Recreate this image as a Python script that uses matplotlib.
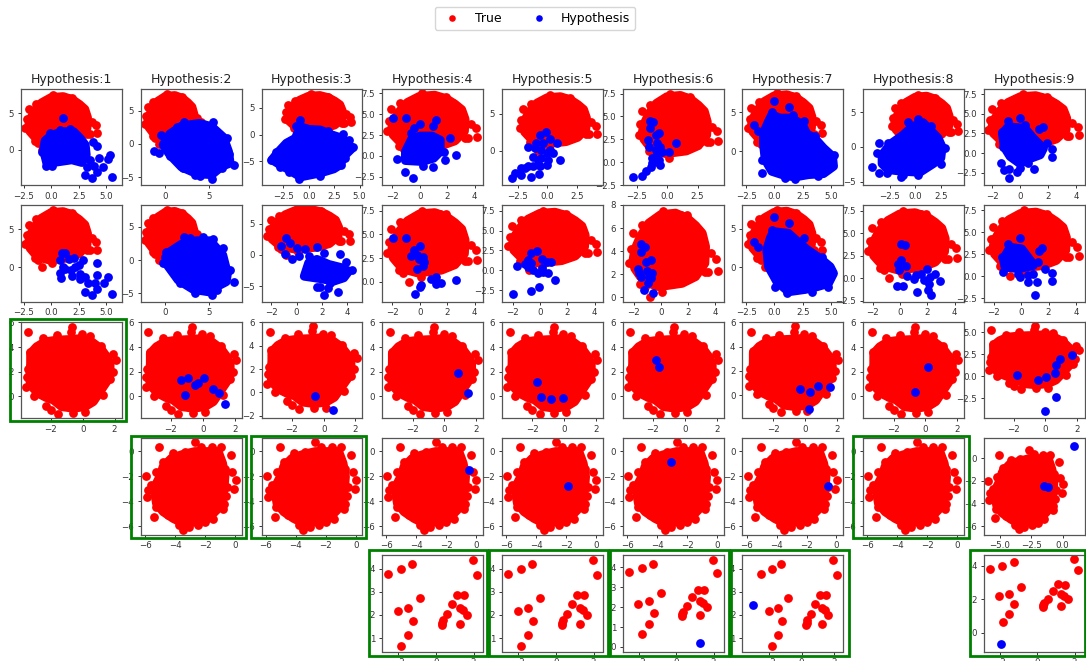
#!/usr/bin/env python3
# -*- coding: utf-8 -*-

import matplotlib
matplotlib.use("Agg")
import matplotlib.pyplot as pyplot
from matplotlib.patches import Rectangle

# true samples: outline of the dense cloud + stragglers
true_top_hull = [(-2.05, 3.25), (-1.93, 4.12), (-1.51, 5.28), (-0.89, 6.43), (-0.02, 7.16), (1.09, 7.3), (1.95, 6.87),
	(2.57, 6.23), (3.06, 5.57), (3.31, 4.41), (3.26, 2.96), (2.57, 1.8), (1.58, 1.22), (0.72, 1.07), (-0.15, 0.93),
	(-0.89, 1.22), (-1.51, 1.8), (-1.93, 2.52)]
true_top_extra = [(-2.35, 3.0), (-2.2, 4.2), (-2.05, 5.6), (-1.4, 6.3), (0.2, 7.5), (0.6, 7.2), (1.5, 7.1), (1.9, 7.1),
	(2.4, 6.3), (2.9, 5.6), (-0.8, 0.0), (3.7, 3.85), (4.1, 3.35), (4.2, 2.3), (3.5, 2.2), (3.3, 2.2), (0.12, 0.5),
	(-1.5, 1.2), (-1.2, 0.9)]

true_mid_hull = [(-3.27, 3.49), (-3.27, 2.68), (-3.31, 1.86), (-3.31, 1.19), (-3.1, 0.65), (-2.79, 0.24), (-2.32, -0.08),
	(-1.84, -0.3), (-1.32, -0.84), (-0.59, -0.97), (0.15, -0.84), (0.67, -0.43), (1.09, 0.38), (1.51, 1.19), (1.72, 1.86),
	(1.72, 2.68), (1.51, 3.22), (1.13, 3.89), (0.57, 4.43), (-0.06, 4.7), (-0.8, 4.62), (-1.63, 4.57), (-2.37, 4.43),
	(-2.89, 4.03)]
true_mid_extra = [(-3.41, 5.2), (-0.65, 5.67), (-0.71, 5.24), (-0.04, 5.03), (0.46, 4.9), (1.13, 4.08), (1.93, 3.4),
	(2.1, 2.92), (1.9, 2.0), (1.72, 1.4), (1.3, 0.1), (0.15, -1.3), (-0.6, -1.33), (-1.53, -1.43), (-2.0, -1.1),
	(-2.3, -0.76), (-3.06, 0.05), (-3.56, 0.76), (-3.52, 1.6), (-3.45, 2.19), (-3.31, 3.62), (-2.47, 4.7), (-1.63, 4.97)]

true_low_hull = [(-5.04, -2.04), (-4.82, -1.23), (-4.26, -0.56), (-3.59, -0.29), (-2.7, -0.03), (-1.81, -0.03),
	(-1.14, -0.03), (-0.85, -0.97), (-0.69, -2.04), (-0.76, -3.11), (-0.92, -4.05), (-1.25, -4.72), (-1.81, -5.39),
	(-2.59, -5.66), (-3.48, -5.79), (-4.15, -5.39), (-4.82, -4.85), (-5.27, -4.18), (-5.38, -3.38), (-5.27, -2.57)]
true_low_extra = [(-5.08, 0.3), (-2.7, 0.7), (-2.3, 0.37), (-1.58, 0.3), (-0.98, 0.3), (-0.3, -0.3), (-0.2, -1.7),
	(0.04, -2.3), (-0.07, -3.05), (-0.54, -2.85), (-0.8, -4.6), (-1.47, -5.4), (-2.47, -5.9), (-3.07, -6.05),
	(-3.5, -6.27), (-3.77, -5.9), (-5.3, -4.45), (-5.43, -5.3), (-5.88, -3.7), (-5.8, -3.1), (-5.6, -2.7),
	(-5.95, -2.0), (-5.27, -1.63), (-4.8, -0.83), (-4.14, -0.15), (-3.37, -0.03), (-4.5, -5.1), (-2.0, -5.7),
	(-0.75, -4.2), (-0.6, -3.6), (-0.7, -1.4)]

true_few = [(-2.54, 3.77), (-1.86, 3.97), (-1.25, 4.19), (1.98, 4.37), (2.2, 3.71), (-0.84, 2.72), (1.14, 2.88),
	(1.5, 2.85), (0.86, 2.49), (1.29, 2.3), (1.46, 2.2), (1.63, 2.01), (0.59, 2.04), (0.36, 1.76), (0.32, 1.67),
	(0.30, 1.57), (1.29, 1.6), (-1.48, 2.3), (-2.04, 2.17), (-1.21, 1.73), (-1.48, 1.15), (-1.84, 0.67)]

# hypothesis samples, dense clouds as outline + stragglers
hull_1_1 = [(-0.7, 0), (-0.55, 1.27), (0.06, 2.05), (1.12, 2.5), (2.04, 2.5), (2.64, 1.59), (3.1, 0.68), (3.19, -0.68),
	(2.8, -1.73), (1.88, -1.36), (0.21, -1.73), (-0.4, -1.82), (-0.55, -0.91)]
hyp_1_1 = [(1.1, 4.4), (3.04, -3.45), (3.68, -3.86), (5.56, -3.73), (4.16, -3.09), (4.71, -2.27), (5.17, -1.27),
	(5.38, -0.68), (3.8, 1.14), (4.16, 0.55), (4.32, -1.14), (3.86, -2.18), (3.5, -1.36), (3.25, -2.27), (-0.15, 2.3),
	(0.82, 2.73), (1.73, 2.8), (-0.46, -2.18), (0.06, -2.18), (-0.85, -0.3)]
hyp_2_1 = [(0.97, 1.8), (1.28, 1.89), (0.82, 0.92), (1.12, 0.04), (0.76, -0.7), (0.91, -1.36), (1.58, 1.05),
	(2.1, 1.27), (2.89, 0.92), (1.79, -0.39), (1.88, -1.18), (2.49, 0.26), (4.16, 0.61), (2.64, -1.49), (3.1, -1.27),
	(3.31, -2.06), (4.16, -1.05), (4.77, -2.06), (5.14, -1.27), (3.95, -2.06), (3.04, -3.25), (3.68, -3.6),
	(5.56, -3.5), (4.16, -2.8), (2.19, 0.04), (1.28, -0.18), (2.58, -0.83)]

hull_1_2 = [(-0.27, -0.15), (0.5, 1.5), (1.86, 2.7), (3.91, 3.1), (5.35, 2.6), (6.7, 1), (7.29, -1.15), (7.48, -2.9),
	(6.51, -3.4), (5.35, -4.65), (3.6, -4.5), (1.86, -3.5), (0.5, -1.65)]
hyp_1_2 = [(-1.36, -1), (-0.54, 1.4), (-0.74, -1.4), (7.87, -3.15), (5.35, -5.3), (3.41, -4.75), (3.99, -4.9),
	(5.47, 3.25), (2.17, 3.35), (1.28, 2.5), (7.09, 0.85), (7.3, -1.6), (6.5, -3.65), (2.06, -3.7), (0.5, -1.9)]
hull_2_2 = [(0.12, -0.6), (0.5, 1.25), (1.86, 2.4), (3.6, 2.9), (5.16, 2.9), (6.63, 0.75), (7.17, -2), (7.02, -3.25),
	(5.54, -4.25), (4.96, -4.75), (3.22, -4.4), (1.47, -3)]
hyp_2_2 = [(2.17, 3.5), (2.83, 3.25), (5.47, 3.15), (7.87, -3.25), (5.35, -5.3), (3.41, -5), (0.04, 1.25),
	(-0.08, 0.5), (6.7, 1.75), (7.5, -1.5), (5.93, -4.5), (1.66, -3.5), (-0.27, -0.5), (4.3, 3.4)]

hull_1_3 = [(-3.62, -4.69), (-2.96, -3.15), (-2.2, -1.6), (-1.32, -0.68), (-0.82, 1.48), (0, 0.99), (1.15, 0.86),
	(2.3, -0.06), (3.29, -0.68), (3.95, -1.91), (4.28, -2.53), (3.45, -4.07), (3.13, -5.6), (2.47, -6.4), (1.15, -7.16),
	(-0.82, -7.9), (-1.97, -6.54), (-2.86, -5.6)]
hyp_1_3 = [(-0.82, 2.7), (-1.3, 1.6), (3.39, 0.12), (4.37, -2.4), (-3.68, -4.8), (-2.86, -6.1), (-0.92, -8.27),
	(3.13, -5.6), (3.95, -1), (1.15, -7.8), (-1.9, -7.0), (-3.2, -3.2), (2.8, -0.4), (3.6, -4.4), (1.9, 0.6)]
hull_2_3 = [(0.6, -3.42), (0.95, -1.25), (1.6, -0.71), (2.53, -1.52), (3.58, -2.06), (4.1, -2.6), (3.71, -3.67),
	(2.92, -4.2), (1.87, -3.8)]
hyp_2_3 = [(-0.82, 2.66), (-1.21, 1.47), (-0.5, 1.85), (0.03, 1.09), (-0.95, 0.11), (-0.37, -0.7), (0.16, -0.16),
	(0.68, 0.92), (1.6, 1.2), (0.95, -0.16), (2.13, 0.38), (3.39, 0.11), (3.89, -1.09), (4.37, -2.34), (1.6, -5.2),
	(1.87, -5.2), (2.66, -4.5), (3.26, -5.87), (2.13, -6.4), (2.5, -5.3)]

hull_1_4 = [(-1.04, 0.52), (-0.56, 2.11), (0.05, 2.39), (0.9, 2.39), (1.5, 1.91), (1.5, 0.52), (1.02, -0.28),
	(0.17, -0.68), (-1.04, -0.56)]
hyp_1_4 = [(-1.91, 4.5), (-0.97, 4.5), (0, 3.82), (0.97, 3.63), (1.19, 4.3), (-0.44, 3.3), (-1.65, -0.32),
	(-1.09, -1.95), (-0.48, -2.63), (0.97, -1.31), (2.64, 0.16), (2.23, 2.19), (1.79, 0.52), (1.86, -0.48),
	(0.22, -1.27), (-0.63, 2.79)]
hyp_2_4 = [(-1.91, 4.61), (-0.97, 4.61), (0, 3.8), (-0.39, 3.35), (-0.63, 2.75), (-0.19, 2.82), (0.22, 2.64),
	(-0.07, 2.39), (0.29, 2.11), (0.22, 1.69), (-0.19, 1.3), (0.82, 0.28), (1.19, 0.46), (1.19, -0.28), (1.57, -0.11),
	(2.64, 0.14), (0.12, -0.35), (0, -0.6), (-0.31, -1.27)]

hyp_1_5 = [(-2.97, -3.7), (-2.72, -3.04), (-2.21, -3.35), (-1.36, -3.57), (-1.93, -2.37), (-1.22, -0.8), (-1.64, 0.45),
	(-1.08, 0.31), (-0.65, 2.1), (-0.14, 2.46), (0.2, 1.52), (0.82, 0.98), (0.48, -0.27), (1.1, -1.3), (-0.08, -1.92),
	(-0.74, -3.12), (-1.64, -2.14), (-0.79, -1.25), (-0.51, 0.09), (-0.08, -0.36), (0.06, -1.25), (-0.93, 0.98),
	(-1.22, -2.14), (-2.21, -2.37), (-0.37, 0.98), (-0.65, -2.14), (0.2, 0.09), (-0.51, -1.03)]
hyp_2_5 = [(-1.99, -3.01), (-0.64, -2.59), (-0.12, -2.05), (1.08, -1.26), (-1.67, 0.5), (-1.13, 0.79), (-0.88, 1.3),
	(-0.69, 2.13), (-0.2, 2.47), (0.1, 1.42), (0.47, 1.09), (0.76, 1), (-0.88, 0.46), (-0.51, 0.04), (-0.15, -0.38),
	(0.22, -0.17), (0.54, -0.38), (-0.64, 0.88), (0.1, 0.25)]

hyp_1_6 = [(-2.84, -1.63), (-2.09, -1.56), (-1.71, -1.01), (-1.32, -0.54), (-0.55, -0.36), (-1.38, 4.49), (-1.18, 4.35),
	(-1.38, 3.77), (-0.96, 2.97), (-0.69, 3.22), (-1.57, 2.43), (-1.52, 1.7), (-0.83, 2.07), (-0.55, 1.63), (-0.41, 1.09),
	(0.69, 2.14), (0.14, 1.16), (-1.24, 0.43), (-0.83, 0.98), (-1.24, -0.11), (-0.69, 0.25), (-0.96, 1.34)]
hyp_2_6 = [(-1.46, 4.64), (-1.19, 4.35), (-1.46, 3.97), (-1.06, 3.04), (-0.69, 3.25), (-1.68, 2.43), (-1.63, 2.09),
	(-1.43, 1.8), (-1.01, 2.32), (-0.64, 2.09), (-0.89, 1.8), (-0.94, 1.28), (-1.26, 0.64), (-0.59, 0.41), (-0.69, 1.65)]

hull_1_7 = [(-0.97, 2.33), (-0.53, 3.84), (-0.24, 4.7), (0.5, 4.27), (1.53, 4.27), (2.47, 3.4), (2.85, 2.24), (3.53, 1.68),
	(4.32, 0.39), (5.12, -0.69), (5.21, -1.98), (4.32, -2.93), (3, -3.06), (1.82, -3.36), (0.94, -3.19), (-0.24, -2.63),
	(-0.82, -1.12), (-0.97, 0.82)]
hyp_1_7 = [(-0.03, 6.47), (1.32, 5.69), (-1.79, 3.32), (-1.12, -2.89), (-1.41, 2.54), (-0.24, 5), (1.62, 4.7),
	(2.56, 3.84), (3.53, 1.98), (5.21, -0.47), (3.88, -3.28), (1.82, -3.62), (0.94, -3.5), (-1.1, -1.1)]
hull_2_7 = [(-0.68, 2.26), (-0.38, 3.78), (-0.09, 4.65), (1.24, 4.43), (1.88, 3.57), (2.85, 2.35), (4.03, 1.17),
	(4.91, 0.09), (5.21, -0.78), (4.76, -2.09), (3.74, -2.52), (2.71, -2.87), (1.24, -3.17), (0.21, -1.87), (-0.53, 0.09)]
hyp_2_7 = [(-0.03, 6.48), (1.32, 5.74), (-1.79, 3.3), (-1.41, 2.7), (0.06, -2.52), (1.09, -3.39), (2.56, 3.78),
	(-0.24, 4.87), (4.18, 1.39), (4.76, -2.52), (3.29, -3.17)]

hull_1_8 = [(-3.28, -1.14), (-2.43, 0.43), (-1.21, 1.71), (-0.33, 2.9), (0.75, 3.48), (1.51, 2.33), (2.23, 1.24),
	(2.62, -0.05), (2.49, -1.62), (1.74, -2.43), (0.43, -3.67), (-1.38, -3.52), (-2.69, -3.29), (-3.28, -2.43)]
hyp_1_8 = [(-3.57, 0.62), (-4.23, -2.95), (-3.57, -3.71), (-2.79, -3.71), (-1.38, -4.33), (-0.72, 3.52), (1.51, 3.05),
	(2.49, -2.43), (-3.74, -0.9), (0.26, 3.95), (-1.21, -4), (2.89, -0.19), (0.26, -4), (-2.69, 0.52)]
hyp_2_8 = [(0.1, 3.85), (0.39, 3.67), (0.1, 2), (-0.15, 1.63), (0.42, 1.37), (-0.07, 0.96), (0.54, 0.22), (1, -0.04),
	(1.56, 0.52), (1.98, 1), (2.54, 0.52), (2.91, -0.33), (1.74, -0.22), (2.13, -0.59), (-0.24, -0.85), (0.2, -0.85),
	(1.22, -1.48), (2.05, -1.33), (2.25, -1.85), (1.2, 0.33), (2.18, 0.15)]

hull_1_9 = [(-1.29, 2.52), (-0.86, 3.36), (0.33, 3.15), (0.93, 1.89), (1.65, 0.63), (1.41, -0.21), (0.45, -0.84),
	(-0.02, -1.34), (-0.74, -0.42), (-1.15, 0.76)]
hyp_1_9 = [(0, 4.41), (1.34, 3.03), (1.58, 3.32), (2.24, 0.55), (2.24, -0.42), (-1.41, -1.18), (-1.17, -2.18),
	(-0.81, -2.02), (-0.81, -3.11), (-0.21, -2.44), (0.98, -1.97), (-0.91, 4.12), (1.93, 1.34), (0.33, 3.57),
	(-1.34, 2.73), (-1.22, 0.84), (0.57, -1.26), (-0.02, -1.89)]
hull_2_9 = [(-1.29, 1.99), (-0.8, 3.31), (0.05, 3.12), (0.78, 1.62), (0.9, 1.24), (-0.2, 0.86), (-1.17, 1.05)]
hyp_2_9 = [(-0.07, 4.36), (1.32, 2.93), (1.56, 3.23), (2.24, 0.41), (2.24, -0.49), (0.98, -2.07), (-1.29, 0.49),
	(-0.07, -0.08), (0.54, -0.64), (1.15, -0.64), (0.54, 0.11), (1.76, 0.86), (1.27, 1.62), (0.9, 0.3), (-0.2, 0.3),
	(-0.93, 3.68), (-1.41, 2.18)]

hyp_3_2 = [(-1.38, 1.35), (-0.92, 1.46), (-0.5, 0.95), (-0.31, 1.05), (0.06, 1.49), (0.67, 0.62), (1.03, 0.24),
	(1.4, -0.62), (-1.11, 0.11)]
hyp_3_3 = [(-0.57, -0.29), (0.59, -1.49)]
hyp_3_4 = [(0.84, 1.89), (1.49, 0.3)]
hyp_3_5 = [(-1.7, 1.19), (-1.45, -0.08), (-0.8, -0.19), (-0.06, -0.14)]
hyp_3_6 = [(-1.82, 2.97), (-1.59, 2.38)]
hyp_3_7 = [(-0.34, 0.52), (0.29, 0.28), (0.8, 0.77), (1.6, 0.66), (0.25, -1.16)]
hyp_3_8 = [(0.15, 2.38), (-0.65, 0.38)]
hyp_3_9 = [(-1.77, 0.19), (-0.48, -0.41), (0.04, -0.04), (0.63, 0.37), (0.65, 1.27), (0.95, 1.99), (1.71, 2.4),
	(0.65, -2.4), (-0.02, -3.9)]

hyp_4_4 = [(-0.45, -1.5)]
hyp_4_5 = [(-1.88, -2.79)]
hyp_4_6 = [(-3.06, -0.88)]
hyp_4_7 = [(-0.54, -2.8)]
hyp_4_9 = [(0.94, 1.13), (-1.47, -2.43), (-1.2, -2.52)]

hyp_5_6 = [(1.27, 0.22)]
hyp_5_7 = [(-3.01, 2.44)]
hyp_5_9 = [(-1.91, -0.63)]

# axis limits per panel, column number -> limits
xlim_1 = {1: (-2.74, 6.4), 2: (-2.83, 8.8), 3: (-4.65, 5.25), 4: (-2.74, 4.58), 5: (-3.85, 4.67),
	6: (-3.64, 4.65), 7: (-2.82, 6.05), 8: (-5.15, 4.72), 9: (-2.6, 4.58)}
ylim_1 = {1: (-4.8, 8.4), 2: (-6.2, 8.35), 3: (-9.4, 8.6), 4: (-3.5, 8.1), 5: (-4.64, 8.4),
	6: (-2.5, 8.05), 7: (-4.4, 8.1), 8: (-5.5, 8.4), 9: (-4.03, 8.2)}
xlim_2 = {1: (-2.74, 6.4), 2: (-2.83, 8.8), 3: (-2.76, 5.15), 4: (-2.74, 4.58), 5: (-2.8, 4.58),
	6: (-2.79, 4.64), 7: (-2.82, 6.05), 8: (-2.71, 4.65), 9: (-2.7, 4.63)}
ylim_2 = {1: (-4.5, 8.16), 2: (-6.2, 8.25), 3: (-7.45, 7.98), 4: (-2.08, 8.1), 5: (-3.9, 8.2),
	6: (-0.35, 8.0), 7: (-4.43, 8.1), 8: (-2.57, 8.15), 9: (-2.85, 8.1)}
xlim_3 = {1: (-3.87, 2.44), 2: (-3.85, 2.43), 3: (-3.92, 2.42), 4: (-3.92, 2.41), 5: (-3.9, 2.43),
	6: (-3.87, 2.43), 7: (-3.95, 2.4), 8: (-3.95, 2.43), 9: (-3.87, 2.48)}
ylim_3 = {1: (-1.76, 6.08), 2: (-1.76, 6.08), 3: (-2.2, 6.08), 4: (-1.76, 6.08), 5: (-1.76, 6.08),
	6: (-1.76, 6.08), 7: (-1.9, 6.08), 8: (-1.76, 6.08), 9: (-4.72, 6.2)}
xlim_4 = {2: (-6.3, 0.42), 3: (-6.3, 0.42), 4: (-6.3, 0.45), 5: (-6.3, 0.45), 6: (-6.3, 0.45),
	7: (-6.3, 0.45), 8: (-6.3, 0.45), 9: (-6.28, 1.76)}
ylim_4 = {2: (-6.67, 1.05), 3: (-6.67, 1.05), 4: (-6.67, 1.05), 5: (-6.67, 1.05), 6: (-6.67, 1.05),
	7: (-6.67, 1.05), 8: (-6.67, 1.05), 9: (-6.75, 1.8)}
xlim_5 = {4: (-2.87, 2.48), 5: (-2.87, 2.48), 6: (-2.86, 2.54), 7: (-3.67, 2.58), 9: (-2.84, 2.54)}
ylim_5 = {4: (0.42, 4.59), 5: (0.42, 4.59), 6: (-0.23, 4.62), 7: (0.42, 4.59), 9: (-1.1, 4.63)}

# tick values as printed on each panel
ticks_a = [-2.5, 0, 2.5, 5]
ticks_b = [-2, 0, 2, 4]
ticks_c = [-2.5, 0, 2.5]
ticks_d = [-2.5, 0, 2.5, 5, 7.5]
ticks_e = [-5, 0, 5]
xticks_1 = {1: ticks_a, 2: [0, 5], 3: ticks_a, 4: ticks_b, 5: ticks_c, 6: ticks_c, 7: ticks_a, 8: ticks_c, 9: ticks_b}
yticks_1 = {1: [0, 5], 2: ticks_e, 3: ticks_e, 4: ticks_d, 5: [0, 5], 6: ticks_d, 7: [0, 5], 8: ticks_e, 9: ticks_d}
xticks_2 = {1: ticks_a, 2: [0, 5], 3: ticks_b, 4: ticks_b, 5: ticks_b, 6: ticks_b, 7: ticks_a, 8: ticks_b, 9: ticks_b}
yticks_2 = {1: [0, 5], 2: ticks_e, 3: ticks_e, 4: [0, 2.5, 5, 7.5], 5: ticks_d, 6: [0, 2, 4, 6, 8], 7: [0, 5],
	8: ticks_d, 9: ticks_d}
xticks_3 = {col: [-2, 0, 2] for col in range(1, 10)}
yticks_3 = {1: [0, 2, 4, 6], 2: [0, 2, 4, 6], 3: [-2, 0, 2, 4, 6], 4: [0, 2, 4, 6], 5: [0, 2, 4, 6],
	6: [0, 2, 4, 6], 7: [0, 2, 4, 6], 8: [0, 2, 4, 6], 9: ticks_a}
xticks_4 = {2: [-6, -4, -2, 0], 3: [-6, -4, -2, 0], 4: [-6, -4, -2, 0], 5: [-6, -4, -2, 0], 6: [-6, -4, -2, 0],
	7: [-6, -4, -2, 0], 8: [-6, -4, -2, 0], 9: [-5, -2.5, 0]}
yticks_4 = {col: [-6, -4, -2, 0] for col in range(2, 10)}
xticks_5 = {4: [-2, 0, 2], 5: [-2, 0, 2], 6: [-2, 0, 2], 7: [-2, 0, 2], 9: [-2, 0, 2]}
yticks_5 = {4: [1, 2, 3, 4], 5: [1, 2, 3, 4], 6: [0, 1, 2, 3, 4], 7: [1, 2, 3, 4], 9: [0, 2, 4]}

titles = ["Hypothesis:%d" % i for i in range(1, 10)]
legend_labels = ["True", "Hypothesis"]

FIG_W, FIG_H = 1086, 661
AX_W, AX_H = 100.6, 96.5
COL_LEFT = [21, 141, 261.5, 382, 502, 623, 742.5, 863, 984]
ROW_TOP = [88.5, 205, 321.5, 438, 555]
MARKER = 40

# row, col: dense hypothesis outline, hypothesis points
hypotheses = {
	(1, 1): (hull_1_1, hyp_1_1), (1, 2): (hull_1_2, hyp_1_2), (1, 3): (hull_1_3, hyp_1_3),
	(1, 4): (hull_1_4, hyp_1_4), (1, 5): (None, hyp_1_5), (1, 6): (None, hyp_1_6),
	(1, 7): (hull_1_7, hyp_1_7), (1, 8): (hull_1_8, hyp_1_8), (1, 9): (hull_1_9, hyp_1_9),
	(2, 1): (None, hyp_2_1), (2, 2): (hull_2_2, hyp_2_2), (2, 3): (hull_2_3, hyp_2_3),
	(2, 4): (None, hyp_2_4), (2, 5): (None, hyp_2_5), (2, 6): (None, hyp_2_6),
	(2, 7): (hull_2_7, hyp_2_7), (2, 8): (None, hyp_2_8), (2, 9): (hull_2_9, hyp_2_9),
	(3, 2): (None, hyp_3_2), (3, 3): (None, hyp_3_3), (3, 4): (None, hyp_3_4), (3, 5): (None, hyp_3_5),
	(3, 6): (None, hyp_3_6), (3, 7): (None, hyp_3_7), (3, 8): (None, hyp_3_8), (3, 9): (None, hyp_3_9),
	(4, 4): (None, hyp_4_4), (4, 5): (None, hyp_4_5), (4, 6): (None, hyp_4_6), (4, 7): (None, hyp_4_7),
	(4, 9): (None, hyp_4_9),
	(5, 6): (None, hyp_5_6), (5, 7): (None, hyp_5_7), (5, 9): (None, hyp_5_9),
}
true_sets = {
	1: (true_top_hull, true_top_extra), 2: (true_top_hull, true_top_extra),
	3: (true_mid_hull, true_mid_extra), 4: (true_low_hull, true_low_extra), 5: (None, true_few),
}
limits = {1: (xlim_1, ylim_1), 2: (xlim_2, ylim_2), 3: (xlim_3, ylim_3), 4: (xlim_4, ylim_4), 5: (xlim_5, ylim_5)}
ticks = {1: (xticks_1, yticks_1), 2: (xticks_2, yticks_2), 3: (xticks_3, yticks_3), 4: (xticks_4, yticks_4),
	5: (xticks_5, yticks_5)}

# accepted hypotheses: box edges in pixels
green_boxes = [
	(9.5, 319, 126, 421), (131, 435.5, 246, 538), (251, 435.5, 366, 538), (853, 435.5, 969, 538),
	(368.5, 549.5, 487, 656), (489, 549.5, 608, 656), (610, 549.5, 729, 656), (731, 549.5, 849, 656),
	(970, 550, 1085, 656),
]


def draw_cloud(ax, hull, points, color, zorder):
	if hull is not None:
		# round stroke as wide as a marker, so the outline reads as packed dots
		ax.fill([p[0] for p in hull], [p[1] for p in hull], facecolor=color, edgecolor=color,
			lw=MARKER ** 0.5, joinstyle="round", zorder=zorder)
	return ax.scatter([p[0] for p in points], [p[1] for p in points], s=MARKER, c=color, lw=0, zorder=zorder)


fig = pyplot.figure(figsize=(FIG_W / 100, FIG_H / 100), dpi=100)

for row in limits:
	xlims, ylims = limits[row]
	xticks, yticks = ticks[row]
	for col in xlims:
		left = COL_LEFT[col - 1]
		top = ROW_TOP[row - 1]
		ax = fig.add_axes([left / FIG_W, 1 - (top + AX_H) / FIG_H, AX_W / FIG_W, AX_H / FIG_H])
		hull, extra = true_sets[row]
		h_true = draw_cloud(ax, hull, extra, "red", 2)
		if (row, col) in hypotheses:
			hull, points = hypotheses[(row, col)]
			h_hyp = draw_cloud(ax, hull, points, "blue", 3)
		ax.set_xticks(xticks[col])
		ax.set_yticks(yticks[col])
		ax.set_xlim(*xlims[col])
		ax.set_ylim(*ylims[col])
		ax.tick_params(labelsize=6.2, length=2.5, width=0.7, pad=2.5, colors="#333333")
		for spine in ax.spines.values():
			spine.set_linewidth(0.9)
			spine.set_color("#555555")
		if row == 1:
			ax.set_title(titles[col - 1], fontsize=9, pad=4, color="#222222")

for x0, y0, x1, y1 in green_boxes:
	fig.add_artist(Rectangle((x0 / FIG_W, 1 - y1 / FIG_H), (x1 - x0) / FIG_W, (y1 - y0) / FIG_H,
		transform=fig.transFigure, fill=False, edgecolor="green", linewidth=2))

fig.legend([h_true, h_hyp], legend_labels, loc="upper center", ncol=2, fontsize=9,
	bbox_to_anchor=(535 / FIG_W, 1 - 0.5 / FIG_H), handletextpad=0.8, columnspacing=2.0, markerscale=0.75)

fig.savefig("out.png", dpi=100)
pyplot.close()
